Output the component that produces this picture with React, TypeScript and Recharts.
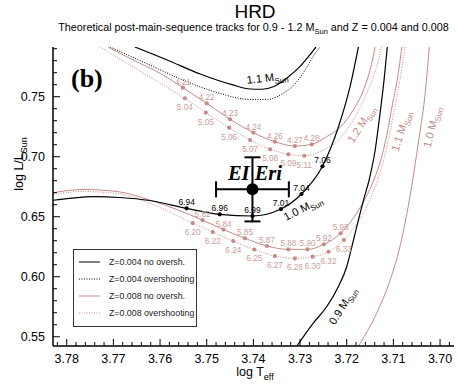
import React from "react";
import { ComposedChart, Line, Scatter, XAxis, YAxis, ErrorBar, ReferenceDot } from "recharts";

const W = 458;
const H = 384;
const SANS = "'Liberation Sans', Arial, sans-serif";
const SERIF = "'Liberation Serif', 'Times New Roman', serif";
const PINK = "#c48a88";
const PINK_TEXT = "#c99d9a";

const X_DOMAIN: [number, number] = [3.69701, 3.78294];
const Y_DOMAIN: [number, number] = [0.5423, 0.7914];

// ticks: every 0.002 in log Teff (labels every 0.01), every 0.01 in log L (labels every 0.05)
const xTicks = Array.from({ length: 43 }, (_, i) => +(3.698 + i * 0.002).toFixed(3));
const yTicks = Array.from({ length: 25 }, (_, i) => +(0.55 + i * 0.01).toFixed(2));
const isMajorX = (v: number) => Math.abs(v * 100 - Math.round(v * 100)) < 1e-6;
const isMajorY = (v: number) => Math.abs(v * 20 - Math.round(v * 20)) < 1e-6;

// Z = 0.004, no overshooting (black)
const z004m10Teff = [3.7829, 3.7793, 3.7744, 3.7686, 3.7622, 3.7543, 3.7472, 3.7402, 3.7341, 3.7297, 3.7252, 3.7218, 3.7193, 3.7175];
const z004m10L = [0.6637, 0.6653, 0.6668, 0.666, 0.6635, 0.657, 0.652, 0.6506, 0.6564, 0.6689, 0.692, 0.7245, 0.7581, 0.7914];
const z004m10Age = [null, null, null, null, null, "6.94", "6.96", "6.99", "7.01", "7.04", "7.06", null, null, null];

const z004m11Teff = [3.7654, 3.7585, 3.7514, 3.7444, 3.7407, 3.7382, 3.7356, 3.7328, 3.73, 3.7279, 3.7266];
const z004m11L = [0.7914, 0.7806, 0.7689, 0.7598, 0.7564, 0.7562, 0.7585, 0.7656, 0.7752, 0.7848, 0.7914];

const z004m09Teff = [3.7307, 3.7272, 3.7243, 3.7218, 3.72, 3.7189, 3.7175, 3.7164, 3.7152, 3.7139, 3.7129, 3.712, 3.7113];
const z004m09L = [0.5422, 0.5612, 0.575, 0.5917, 0.6083, 0.625, 0.6472, 0.6639, 0.6806, 0.7056, 0.7347, 0.7639, 0.7914];

// Z = 0.004, overshooting (black dotted)
const z004m11ovTeff = [3.7707, 3.7622, 3.7551, 3.7478, 3.7407, 3.7371, 3.7337, 3.7307, 3.7285, 3.727, 3.7257];
const z004m11ovL = [0.7914, 0.7764, 0.7639, 0.7535, 0.7477, 0.7477, 0.7527, 0.7623, 0.7748, 0.7848, 0.7914];

// Z = 0.008, no overshooting (pink)
const z008m12Teff = [3.7712, 3.7658, 3.76, 3.7551, 3.75, 3.745, 3.74, 3.7354, 3.7311, 3.7275, 3.7243, 3.7214, 3.7186, 3.7164, 3.715, 3.7139];
const z008m12L = [0.7914, 0.7806, 0.7695, 0.7575, 0.7445, 0.7312, 0.72, 0.7125, 0.7089, 0.7103, 0.7167, 0.7245, 0.7389, 0.7556, 0.7723, 0.7914];
const z008m12Age = [null, null, null, "4.21", "4.22", "4.23", "4.24", "4.26", "4.27", "4.28", null, null, null, null, null, null];

const z008m11Teff = [3.7829, 3.7765, 3.7692, 3.7622, 3.7509, 3.7464, 3.7418, 3.7371, 3.7325, 3.7284, 3.7249, 3.7213, 3.7189, 3.7168, 3.7142, 3.7127, 3.7114, 3.7101, 3.709, 3.7082];
const z008m11L = [0.67, 0.6727, 0.671, 0.6639, 0.6472, 0.6393, 0.632, 0.6256, 0.6228, 0.6228, 0.627, 0.6362, 0.6472, 0.6597, 0.6806, 0.6972, 0.7181, 0.7456, 0.7681, 0.7914];
const z008m11Age = [null, null, null, null, "5.82", "5.84", "5.85", "5.87", "5.88", "5.90", "5.92", "5.98", null, null, null, null, null, null, null, null];

const z008m10Teff = [3.7175, 3.7136, 3.7107, 3.7086, 3.7071, 3.7061, 3.7047, 3.7032, 3.7023];
const z008m10L = [0.5422, 0.5695, 0.5972, 0.625, 0.6528, 0.6747, 0.7106, 0.7523, 0.7914];

// Z = 0.008, overshooting (pink dotted)
const z008m12ovTeff = [3.7729, 3.7658, 3.76, 3.7547, 3.7502, 3.7452, 3.7407, 3.7364, 3.7325, 3.7291, 3.725, 3.7214, 3.7186, 3.7157, 3.7136, 3.7125];
const z008m12ovL = [0.7914, 0.7748, 0.7614, 0.7487, 0.7368, 0.7242, 0.7139, 0.7062, 0.702, 0.7008, 0.7056, 0.7153, 0.7306, 0.7528, 0.775, 0.7914];
const z008m12ovAge = [null, null, null, "5.04", "5.05", "5.06", "5.07", "5.08", "5.09", "5.11", null, null, null, null, null, null];

const z008m11ovTeff = [3.7829, 3.7765, 3.7692, 3.7622, 3.753, 3.7487, 3.7443, 3.7398, 3.7354, 3.7311, 3.7273, 3.7239, 3.7206, 3.7182, 3.7164, 3.7146, 3.7129, 3.7112, 3.7097, 3.7086, 3.7075];
const z008m11ovL = [0.6685, 0.671, 0.6693, 0.6612, 0.6447, 0.6372, 0.6297, 0.6227, 0.6172, 0.6153, 0.6167, 0.6208, 0.6306, 0.6422, 0.6531, 0.6681, 0.6864, 0.7114, 0.7406, 0.7639, 0.7914];
const z008m11ovAge = [null, null, null, null, "6.20", "6.22", "6.24", "6.25", "6.27", "6.28", "6.30", "6.32", "6.33", null, null, null, null, null, null, null, null];

// EI Eri
const eiEriTeff = [3.7402];
const eiEriL = [0.6728];
const eiEriErrTeff = [0.0078];
const eiEriErrL = [0.0267];

// mass labels next to the tracks
const massLabels = [
  { text: "1.1", teff: 3.737, lum: 0.766, angle: -6, color: "#000" },
  { text: "1.0", teff: 3.7294, lum: 0.6573, angle: -27, color: "#000" },
  { text: "0.9", teff: 3.7209, lum: 0.5758, angle: -58, color: "#000" },
  { text: "1.2", teff: 3.7169, lum: 0.7273, angle: -57, color: PINK },
  { text: "1.1", teff: 3.7084, lum: 0.7214, angle: -72, color: PINK },
  { text: "1.0", teff: 3.7018, lum: 0.7248, angle: -76, color: PINK },
];

type Pt = { x: number; y: number; age: string | null };
const track = (teff: number[], lum: number[], age?: (string | null)[]): Pt[] =>
  teff.map((t, i) => ({ x: t, y: lum[i], age: age ? age[i] : null }));
const withAge = (pts: Pt[]) => pts.filter((p) => p.age);

const z004m10 = track(z004m10Teff, z004m10L, z004m10Age);
const z004m11 = track(z004m11Teff, z004m11L);
const z004m09 = track(z004m09Teff, z004m09L);
const z004m11ov = track(z004m11ovTeff, z004m11ovL);
const z008m12 = track(z008m12Teff, z008m12L, z008m12Age);
const z008m11 = track(z008m11Teff, z008m11L, z008m11Age);
const z008m10 = track(z008m10Teff, z008m10L);
const z008m12ov = track(z008m12ovTeff, z008m12ovL, z008m12ovAge);
const z008m11ov = track(z008m11ovTeff, z008m11ovL, z008m11ovAge);
const eiEri = eiEriTeff.map((t, i) => ({ x: t, y: eiEriL[i], ex: eiEriErrTeff[i], ey: eiEriErrL[i] }));

const BottomTick = ({ x, y, payload }: any) => {
  const major = isMajorX(payload.value);
  return (
    <g>
      <line x1={x} x2={x} y1={y} y2={y - (major ? 7 : 4)} stroke="#000" />
      {major && (
        <text x={x} y={y + 17} textAnchor="middle" fontSize={12.5} fontFamily={SANS} fill="#000">
          {payload.value.toFixed(2)}
        </text>
      )}
    </g>
  );
};
const TopTick = ({ x, y, payload }: any) => (
  <line x1={x} x2={x} y1={y} y2={y + (isMajorX(payload.value) ? 7 : 4)} stroke="#000" />
);
const LeftTick = ({ x, y, payload }: any) => {
  const major = isMajorY(payload.value);
  return (
    <g>
      <line x1={x} x2={x + (major ? 7 : 4)} y1={y} y2={y} stroke="#000" />
      {major && (
        <text x={x - 8} y={y + 4.5} textAnchor="end" fontSize={12.5} fontFamily={SANS} fill="#000">
          {payload.value.toFixed(2)}
        </text>
      )}
    </g>
  );
};
const RightTick = ({ x, y, payload }: any) => (
  <line x1={x} x2={x - (isMajorY(payload.value) ? 7 : 4)} y1={y} y2={y} stroke="#000" />
);

const ageDot = (color: string, textColor: string, below: boolean, size: number) => (p: any) => {
  if (p.cx == null) return <g />;
  return (
    <g>
      <circle cx={p.cx} cy={p.cy} r={2.1} fill={color} />
      <text x={p.cx} y={below ? p.cy + 12 : p.cy - 3} textAnchor="middle" fontSize={size} fontFamily={SANS} fill={textColor}>
        {p.payload.age}
      </text>
    </g>
  );
};

const eiEriShape = (p: any) => (
  <g>
    <circle cx={p.cx} cy={p.cy} r={6} fill="#000" />
    <text x={p.cx + 2.5} y={p.cy - 9.5} textAnchor="middle" fontSize={20.5} fontWeight="bold" fontStyle="italic" fontFamily={SERIF} fill="#000">
      EI Eri
    </text>
  </g>
);

const legendRows = [
  { label: "Z=0.004 no oversh.", color: "#000", dash: undefined },
  { label: "Z=0.004 overshooting", color: "#000", dash: "1 1.5" },
  { label: "Z=0.008 no oversh.", color: PINK, dash: undefined },
  { label: "Z=0.008 overshooting", color: PINK, dash: "1 1.5" },
];

export default function App() {
  return (
    <div style={{ position: "absolute", left: 0, top: 0, width: W, height: H, background: "#fff" }}>
      <ComposedChart width={W} height={H} margin={{ top: 47, right: 4, bottom: 0, left: 0 }}>
        <XAxis
          xAxisId={0}
          dataKey="x"
          type="number"
          domain={X_DOMAIN}
          reversed
          allowDataOverflow
          ticks={xTicks}
          interval={0}
          height={38}
          tickSize={0}
          tickMargin={0}
          tickLine={false}
          axisLine={{ stroke: "#000", strokeWidth: 1.5 }}
          tick={<BottomTick />}
        />
        <XAxis
          xAxisId="top"
          orientation="top"
          dataKey="x"
          type="number"
          domain={X_DOMAIN}
          reversed
          allowDataOverflow
          ticks={xTicks}
          interval={0}
          height={0}
          tickSize={0}
          tickMargin={0}
          tickLine={false}
          axisLine={{ stroke: "#000", strokeWidth: 1.5 }}
          tick={<TopTick />}
        />
        <YAxis
          yAxisId={0}
          dataKey="y"
          type="number"
          domain={Y_DOMAIN}
          allowDataOverflow
          ticks={yTicks}
          interval={0}
          width={53}
          tickSize={0}
          tickMargin={0}
          tickLine={false}
          axisLine={{ stroke: "#000", strokeWidth: 1.5 }}
          tick={<LeftTick />}
        />
        <YAxis
          yAxisId="right"
          orientation="right"
          dataKey="y"
          type="number"
          domain={Y_DOMAIN}
          allowDataOverflow
          ticks={yTicks}
          interval={0}
          width={0}
          tickSize={0}
          tickMargin={0}
          tickLine={false}
          axisLine={{ stroke: "#000", strokeWidth: 1.5 }}
          tick={<RightTick />}
        />

        <Line data={z008m12ov} dataKey="y" type="monotone" stroke={PINK} strokeWidth={1} strokeDasharray="1 1.5" dot={false} activeDot={false} isAnimationActive={false} />
        <Line data={z008m11ov} dataKey="y" type="monotone" stroke={PINK} strokeWidth={1} strokeDasharray="1 1.5" dot={false} activeDot={false} isAnimationActive={false} />
        <Line data={z008m12} dataKey="y" type="monotone" stroke={PINK} strokeWidth={1} dot={false} activeDot={false} isAnimationActive={false} />
        <Line data={z008m11} dataKey="y" type="monotone" stroke={PINK} strokeWidth={1} dot={false} activeDot={false} isAnimationActive={false} />
        <Line data={z008m10} dataKey="y" type="monotone" stroke={PINK} strokeWidth={1} dot={false} activeDot={false} isAnimationActive={false} />
        <Line data={z004m11ov} dataKey="y" type="monotone" stroke="#000" strokeWidth={1} strokeDasharray="1 1.5" dot={false} activeDot={false} isAnimationActive={false} />
        <Line data={z004m11} dataKey="y" type="monotone" stroke="#000" strokeWidth={1.2} dot={false} activeDot={false} isAnimationActive={false} />
        <Line data={z004m10} dataKey="y" type="monotone" stroke="#000" strokeWidth={1.2} dot={false} activeDot={false} isAnimationActive={false} />
        <Line data={z004m09} dataKey="y" type="monotone" stroke="#000" strokeWidth={1.2} dot={false} activeDot={false} isAnimationActive={false} />

        <Scatter data={withAge(z008m12)} dataKey="y" shape={ageDot(PINK, PINK_TEXT, false, 8.2)} isAnimationActive={false} />
        <Scatter data={withAge(z008m12ov)} dataKey="y" shape={ageDot(PINK, PINK_TEXT, true, 8.2)} isAnimationActive={false} />
        <Scatter data={withAge(z008m11)} dataKey="y" shape={ageDot(PINK, PINK_TEXT, false, 8.2)} isAnimationActive={false} />
        <Scatter data={withAge(z008m11ov)} dataKey="y" shape={ageDot(PINK, PINK_TEXT, true, 8.2)} isAnimationActive={false} />
        <Scatter data={withAge(z004m10)} dataKey="y" shape={ageDot("#000", "#000", false, 8.5)} isAnimationActive={false} />

        <Scatter data={eiEri} dataKey="y" shape={eiEriShape} isAnimationActive={false}>
          <ErrorBar dataKey="ex" direction="x" width={8} stroke="#000" strokeWidth={2} />
          <ErrorBar dataKey="ey" direction="y" width={8} stroke="#000" strokeWidth={2} />
        </Scatter>

        {massLabels.map((m, i) => (
          <ReferenceDot
            key={`mass-${i}`}
            x={m.teff}
            y={m.lum}
            r={0}
            ifOverflow="visible"
            shape={(p: any) => (
              <text
                x={p.cx}
                y={p.cy}
                dy={4}
                textAnchor="middle"
                transform={`rotate(${m.angle} ${p.cx} ${p.cy})`}
                fontSize={11}
                fontFamily={SANS}
                fill={m.color}
              >
                {m.text} M
                <tspan fontSize={8} dy={3}>
                  Sun
                </tspan>
              </text>
            )}
          />
        ))}
      </ComposedChart>

      <svg width={W} height={H} style={{ position: "absolute", left: 0, top: 0, pointerEvents: "none" }}>
        <text x={255} y={18} textAnchor="middle" fontSize={19} fontFamily={SANS}>HRD</text>
        <text x={253.5} y={31} textAnchor="middle" fontSize={10.8} fontFamily={SANS}>
          Theoretical post-main-sequence tracks for 0.9 - 1.2 M
          <tspan fontSize={7.5} dy={2.5}>Sun</tspan>
          <tspan dy={-2.5}> and Z = 0.004 and 0.008</tspan>
        </text>
        <text x={255} y={376} textAnchor="middle" fontSize={12.5} fontFamily={SANS}>
          log T<tspan fontSize={9} dy={4}>eff</tspan>
        </text>
        <text x={0} y={0} transform="translate(23 164) rotate(-90)" textAnchor="middle" fontSize={12.5} fontFamily={SANS}>
          log L/L<tspan fontSize={9} dy={4}>Sun</tspan>
        </text>
        <text x={71} y={87} fontSize={26} fontWeight="bold" fontFamily={SERIF}>(b)</text>

        <rect x={73.5} y={249.5} width={123} height={77} fill="#fff" stroke="#333" strokeWidth={1} />
        {legendRows.map((r, i) => (
          <g key={r.label}>
            <line x1={79} x2={100} y1={262 + i * 17} y2={262 + i * 17} stroke={r.color} strokeWidth={1} strokeDasharray={r.dash} />
            <text x={109} y={265 + i * 17} fontSize={8.8} fontFamily={SANS} fill="#222">{r.label}</text>
          </g>
        ))}
      </svg>
    </div>
  );
}
